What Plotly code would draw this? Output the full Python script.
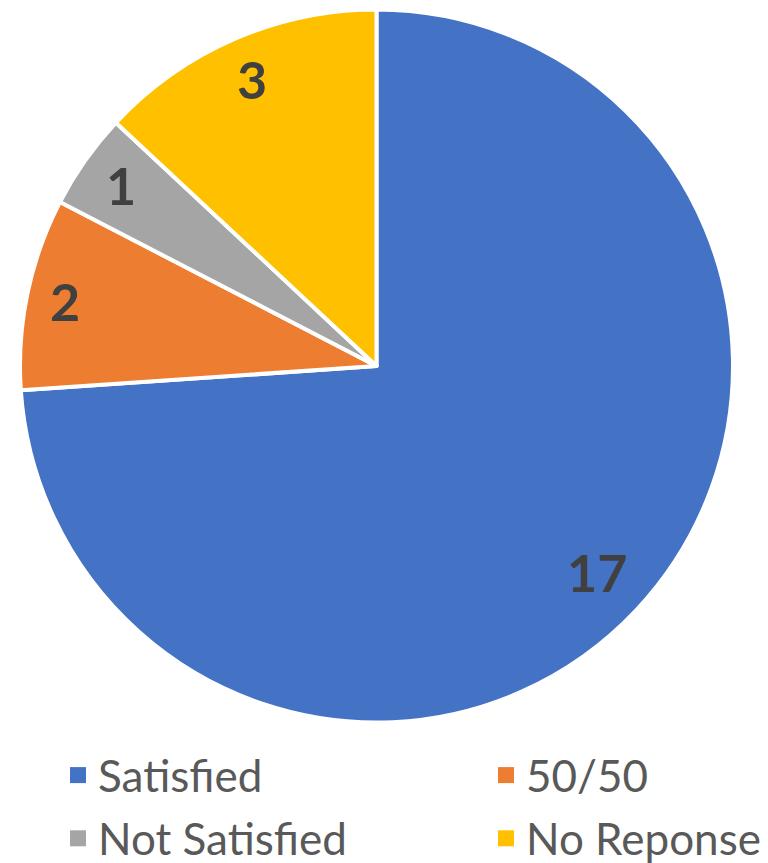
import math
import plotly.graph_objects as go

categories = ["Satisfied", "50/50", "Not Satisfied", "No Reponse"]
values = [17, 2, 1, 3]
colors = ["#4472C4", "#ED7D31", "#A5A5A5", "#FFC000"]
legend_columns = ["legend", "legend2", "legend", "legend2"]

W, H = 768, 863
dom_x = [20 / W, 733 / W]
dom_y = [1 - 723 / H, 1 - 9 / H]
LABEL_SIZE = 52

fig = go.Figure()
fig.add_trace(go.Pie(
    labels=categories,
    values=values,
    sort=False,
    direction="clockwise",
    rotation=0,
    marker=dict(colors=colors, line=dict(color="white", width=4)),
    textinfo="none",
    domain=dict(x=dom_x, y=dom_y),
    hoverinfo="label+value",
    showlegend=False,
))

# legend entries (two columns)
for cat, col, lg in zip(categories, colors, legend_columns):
    fig.add_trace(go.Scatter(
        x=[None], y=[None], mode="markers", name=cat, legend=lg,
        legendgroup=cat,
        marker=dict(symbol="square", size=20, color=col),
        hoverinfo="skip",
    ))

# value labels placed "inside end" of each slice
cx_px = (dom_x[0] + dom_x[1]) / 2 * W
cy_px = (1 - (dom_y[0] + dom_y[1]) / 2) * H
R_px = min((dom_x[1] - dom_x[0]) * W, (dom_y[1] - dom_y[0]) * H) / 2
total = sum(values)
cum = 0
for v in values:
    mid = (cum + v / 2) / total * 2 * math.pi
    cum += v
    s, c = math.sin(mid), math.cos(mid)
    half_w = 0.55 * LABEL_SIZE * len(str(v)) / 2
    half_h = 20
    r = R_px - 20 - (abs(s) * half_w + abs(c) * half_h)
    px = cx_px + r * s
    py = cy_px - r * c
    fig.add_annotation(
        x=px / W, y=1 - py / H, xref="paper", yref="paper",
        text=str(v), showarrow=False,
        font=dict(family="Lato", size=LABEL_SIZE, color="#404040", weight="bold"),
        xanchor="center", yanchor="middle",
    )

legend_font = dict(family="Lato", size=44, color="#595959")
fig.update_layout(
    width=W, height=H,
    margin=dict(l=0, r=0, t=0, b=0, autoexpand=False),
    paper_bgcolor="white",
    plot_bgcolor="white",
    xaxis=dict(visible=False),
    yaxis=dict(visible=False),
    showlegend=True,
    legend=dict(x=58 / W, xanchor="left", y=-11 / H, yanchor="bottom",
                font=legend_font, itemwidth=30, tracegroupgap=3,
                bgcolor="rgba(0,0,0,0)"),
    legend2=dict(x=486 / W, xanchor="left", y=-11 / H, yanchor="bottom",
                 font=legend_font, itemwidth=30, tracegroupgap=3,
                 bgcolor="rgba(0,0,0,0)"),
)

fig.write_html("out.html", config={"displayModeBar": False},
               post_script="document.body.style.margin='0';")
